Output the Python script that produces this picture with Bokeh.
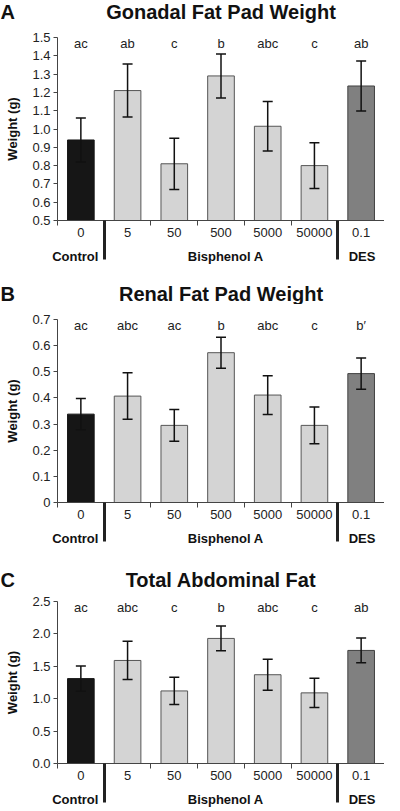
from bokeh.plotting import figure
from bokeh.models import (ColumnDataSource, Range1d, FixedTicker, LinearAxis,
                          Whisker, TeeHead)
from bokeh.layouts import column
from bokeh.core.properties import value
from bokeh.embed import file_html
from bokeh.resources import INLINE

FONT = "Liberation Sans"

# ---------------- data ----------------
doses = ["0", "5", "50", "500", "5000", "50000", "0.1"]
groups = ["Control", "Bisphenol A", "DES"]
group_sizes = [1, 5, 1]
bar_fill = ["#161616", "#d4d4d4", "#d4d4d4", "#d4d4d4", "#d4d4d4", "#d4d4d4", "#808080"]
bar_line = ["#161616", "#555555", "#555555", "#555555", "#555555", "#555555", "#404040"]

gonadal_mean = [0.94, 1.21, 0.81, 1.29, 1.015, 0.80, 1.235]
gonadal_err = [0.12, 0.145, 0.14, 0.12, 0.135, 0.125, 0.137]
gonadal_letters = ["ac", "ab", "c", "b", "abc", "c", "ab"]
gonadal_ticks = [0.5, 0.6, 0.7, 0.8, 0.9, 1.0, 1.1, 1.2, 1.3, 1.4, 1.5]
gonadal_tick_labels = ["0.5", "0.6", "0.7", "0.8", "0.9", "1.0", "1.1", "1.2", "1.3", "1.4", "1.5"]

renal_mean = [0.338, 0.407, 0.295, 0.573, 0.411, 0.295, 0.493]
renal_err = [0.06, 0.089, 0.061, 0.059, 0.074, 0.07, 0.06]
renal_letters = ["ac", "abc", "ac", "b", "abc", "c", "b\u2032"]
renal_ticks = [0.0, 0.1, 0.2, 0.3, 0.4, 0.5, 0.6, 0.7]
renal_tick_labels = ["0", "0.1", "0.2", "0.3", "0.4", "0.5", "0.6", "0.7"]

total_mean = [1.31, 1.59, 1.12, 1.93, 1.37, 1.09, 1.745]
total_err = [0.195, 0.295, 0.21, 0.19, 0.24, 0.225, 0.19]
total_letters = ["ac", "abc", "c", "b", "abc", "c", "ab"]
total_ticks = [0.0, 0.5, 1.0, 1.5, 2.0, 2.5]
total_tick_labels = ["0.0", "0.5", "1.0", "1.5", "2.0", "2.5"]

# ---------------- layout constants ----------------
FIG_W = 384
LEFT = 57
FRAME_W = FIG_W - LEFT
GROUP_LABEL_POS = [0.38, 3.6, 6.52]


def title_strip(tag, title, height, text_y):
    t = figure(width=FIG_W, height=height, x_range=Range1d(0, FIG_W),
               y_range=Range1d(0, height), output_backend="svg",
               toolbar_location=None, x_axis_type=None, y_axis_type=None,
               min_border=0, frame_align=False)
    t.outline_line_color = None
    t.grid.visible = False
    yy = height - text_y
    t.text(x=[0], y=[yy], text=[tag], text_font=value(FONT),
           text_font_size="20px", text_font_style="bold", text_color="#111111",
           text_align="left", text_baseline="middle")
    t.text(x=[LEFT + FRAME_W / 2.0], y=[yy], text=[title], text_font=value(FONT),
           text_font_size="20px", text_font_style="bold", text_color="#111111",
           text_align="center", text_baseline="middle")
    return t


def make_panel(means, errs, letters, ticks, tick_labels, height, top, bottom):
    n = len(doses)
    y0, y1 = ticks[0], ticks[-1]
    centers = [i + 0.5 for i in range(n)]
    bounds = [float(i) for i in range(n + 1)]
    seps = []
    acc = 0
    for s in group_sizes[:-1]:
        acc += s
        seps.append(float(acc))

    p = figure(width=FIG_W, height=height, x_range=Range1d(0, n),
               y_range=Range1d(y0, y1), output_backend="svg",
               toolbar_location=None, x_axis_type=None,
               min_border_left=LEFT, min_border_right=0,
               min_border_top=top, min_border_bottom=bottom)
    p.outline_line_color = None
    p.grid.visible = False
    p.background_fill_color = "white"

    src = ColumnDataSource(dict(
        x=centers, top=means, fill=bar_fill, line=bar_line,
        upper=[m + e for m, e in zip(means, errs)],
        lower=[m - e for m, e in zip(means, errs)],
        lab=letters,
        ly=[y1 - 0.034 * (y1 - y0)] * n,
    ))
    p.vbar(x="x", top="top", bottom=y0, width=0.57, source=src,
           fill_color="fill", line_color="line", line_width=1)
    p.add_layout(Whisker(base="x", upper="upper", lower="lower", source=src,
                         level="annotation",
                         line_color="#111111", line_width=1.5,
                         upper_head=TeeHead(size=10, line_color="#111111", line_width=1.5),
                         lower_head=TeeHead(size=10, line_color="#111111", line_width=1.5)))
    p.text(x="x", y="ly", text="lab", source=src, text_font=value(FONT),
           text_font_size="13px", text_color="#222222",
           text_align="center", text_baseline="middle")

    # y axis
    ya = p.yaxis[0]
    ya.ticker = FixedTicker(ticks=ticks)
    ya.major_label_overrides = {t: l for t, l in zip(ticks, tick_labels)}
    ya.axis_line_color = "#444444"
    ya.major_tick_line_color = "#444444"
    ya.major_tick_out = 4
    ya.major_tick_in = 0
    ya.minor_tick_line_color = None
    ya.major_label_text_font = FONT
    ya.major_label_text_font_size = "13px"
    ya.major_label_text_color = "#222222"
    ya.major_label_standoff = 3
    ya.axis_label = "Weight (g)"
    ya.axis_label_text_font = FONT
    ya.axis_label_text_font_size = "13px"
    ya.axis_label_text_font_style = "bold"
    ya.axis_label_text_color = "#111111"
    ya.axis_label_standoff = 9

    # dose axis
    xa = LinearAxis(ticker=FixedTicker(ticks=centers, minor_ticks=bounds),
                    major_label_overrides={c: d for c, d in zip(centers, doses)})
    xa.axis_line_color = "#444444"
    xa.major_tick_line_color = None
    xa.major_tick_out = 4
    xa.major_tick_in = 0
    xa.minor_tick_line_color = "#444444"
    xa.minor_tick_out = 5
    xa.minor_tick_in = 0
    xa.major_label_text_font = FONT
    xa.major_label_text_font_size = "13px"
    xa.major_label_text_color = "#222222"
    xa.major_label_standoff = 2
    p.add_layout(xa, "below")

    # group axis with separators
    ga = LinearAxis(ticker=FixedTicker(ticks=GROUP_LABEL_POS, minor_ticks=seps),
                    major_label_overrides={c: g for c, g in zip(GROUP_LABEL_POS, groups)})
    ga.axis_line_color = None
    ga.major_tick_line_color = None
    ga.major_tick_out = 0
    ga.major_tick_in = 0
    ga.minor_tick_line_color = "#222222"
    ga.minor_tick_line_width = 3
    ga.minor_tick_in = 19
    ga.minor_tick_out = 20
    ga.major_label_text_font = FONT
    ga.major_label_text_font_size = "13px"
    ga.major_label_text_font_style = "bold"
    ga.major_label_text_color = "#111111"
    ga.major_label_standoff = -11
    p.add_layout(ga, "below")
    return p


ta = title_strip("A", "Gonadal Fat Pad Weight", 24, 11)
pa = make_panel(gonadal_mean, gonadal_err, gonadal_letters,
                gonadal_ticks, gonadal_tick_labels, 244, 13, 48)
tb = title_strip("B", "Renal Fat Pad Weight", 36, 25)
pb = make_panel(renal_mean, renal_err, renal_letters,
                renal_ticks, renal_tick_labels, 244, 15, 46)
tc = title_strip("C", "Total Abdominal Fat", 42, 31)
pc = make_panel(total_mean, total_err, total_letters,
                total_ticks, total_tick_labels, 219, 11, 45)

layout = column(ta, pa, tb, pb, tc, pc, spacing=0)
open("out.html", "w").write(file_html(layout, INLINE))
